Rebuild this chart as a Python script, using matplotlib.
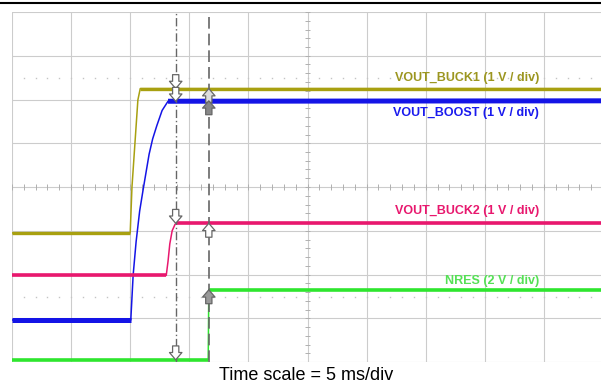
import matplotlib
matplotlib.use("Agg")
import matplotlib.pyplot as plt
from matplotlib.lines import Line2D

# trace data, in screen divisions (x: 5 ms/div, y: 8 divisions high)
buck1_x = [0.0, 2.00, 2.03, 2.13, 2.17, 10.0]
buck1_y = [2.95, 2.95, 4.00, 5.99, 6.25, 6.25]

boost_x = [0.0, 2.01, 2.05, 2.10, 2.16, 2.22, 2.27, 2.32, 2.38, 2.45, 2.54, 2.64, 10.0]
boost_y = [0.96, 0.96, 1.99, 2.75, 3.45, 3.95, 4.35, 4.75, 5.10, 5.40, 5.75, 5.96, 5.97]

buck2_x = [0.0, 2.61, 2.64, 2.67, 2.71, 2.76, 2.80, 10.0]
buck2_y = [1.98, 1.98, 2.30, 2.70, 3.00, 3.15, 3.17, 3.17]

nres_x = [0.0, 3.32, 3.33, 10.0]
nres_y = [0.05, 0.05, 1.65, 1.65]

labels = ["VOUT_BUCK1 (1 V / div)", "VOUT_BOOST (1 V / div)",
          "VOUT_BUCK2 (1 V / div)", "NRES (2 V / div)"]
label_y = [6.49, 5.69, 3.46, 1.86]
colors = ["#a8a010", "#1414e6", "#e8186e", "#2ee62e"]
text_colors = ["#9c9620", "#1a1aee", "#e8186e", "#55e055"]

cursor1 = 2.77   # dash-dot cursor
cursor2 = 3.33   # dashed cursor
ref_levels = [6.49, 1.49]

fig = plt.figure(figsize=(6.01, 3.84), dpi=100)
ax = fig.add_axes([12 / 601, 22 / 384, 589 / 601, 350 / 384])
ax.set_xlim(0, 589 / 59.1)
ax.set_ylim(0, 8)
ax.axis("off")

# graticule
for i in range(11):
    ax.axvline(i, color="#cccccc", lw=0.8, zorder=0)
for j in range(9):
    ax.axhline(j, color="#cccccc", lw=0.8, zorder=0)
minor = [k * 0.2 for k in range(51)]
ax.vlines(minor, 4 - 0.07, 4 + 0.07, color="#b0b0b0", lw=0.7, zorder=0)
ax.hlines([k * 0.2 for k in range(41)], 5 - 0.05, 5 + 0.05, color="#b0b0b0", lw=0.7, zorder=0)
for lv in ref_levels:
    ax.plot([k * 0.2 for k in range(1, 50)], [lv] * 49, ls="none", marker="s",
            ms=1.0, color="#c4c4c4", mec="none", zorder=0)

# traces: thin edges, thick flat levels
for xs, ys, c, lw in [(buck1_x, buck1_y, colors[0], 2.4), (boost_x, boost_y, colors[1], 3.6),
                      (buck2_x, buck2_y, colors[2], 2.6), (nres_x, nres_y, colors[3], 2.6)]:
    ax.plot(xs, ys, color=c, lw=1.1, zorder=3)
    ax.plot(xs[:2], ys[:2], color=c, lw=lw, zorder=3, solid_capstyle="butt")
    ax.plot(xs[-2:], ys[-2:], color=c, lw=lw, zorder=3, solid_capstyle="butt")

# cursors
ax.axvline(cursor1, color="#666666", lw=1.0, ls=(0, (6, 2, 1, 2)), zorder=4)
ax.axvline(cursor2, color="#666666", lw=1.2, ls=(0, (7, 3)), zorder=4)

def arrow(fc="white"):
    return dict(arrowstyle="simple,head_length=0.35,head_width=0.6,tail_width=0.3",
                fc=fc, ec="#666666", lw=0.9, mutation_scale=15, shrinkA=0, shrinkB=0)

for y in [6.25, 5.96, 3.17, 0.05]:
    ax.annotate("", xy=(cursor1, y), xytext=(0, 10), textcoords="offset points",
                arrowprops=arrow(), zorder=5)
for y, fc in zip([6.25, 5.97, 3.17, 1.65], ["#dddddd", "#888888", "white", "#999999"]):
    ax.annotate("", xy=(cursor2, y), xytext=(0, -10), textcoords="offset points",
                arrowprops=arrow(fc), zorder=5)

for t, yy, c in zip(labels, label_y, text_colors):
    ax.text(8.92, yy, t, color=c, fontsize=9, fontweight="bold", ha="right", va="center",
            family="Liberation Sans", zorder=6)

fig.text(0.51, 0.023, "Time scale = 5 ms/div", fontsize=13, ha="center", va="center",
         family="Liberation Sans")
fig.add_artist(Line2D([0, 1], [0.9914, 0.9914], color="black", lw=1.5))

plt.savefig("out.png", dpi=100)
